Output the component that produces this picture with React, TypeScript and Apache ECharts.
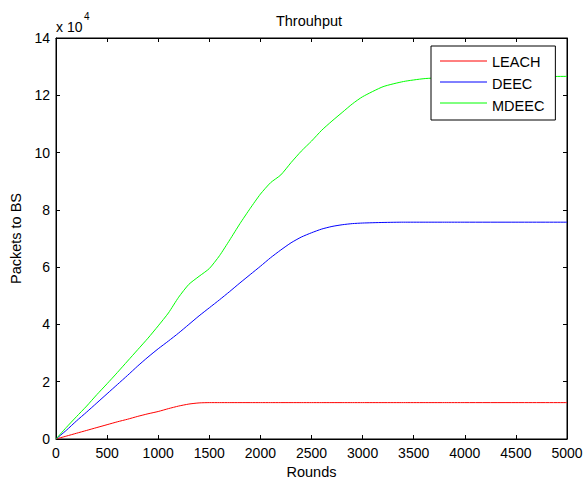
import React, { useEffect, useRef } from "react";
import * as echarts from "echarts";

const rounds = [0, 100, 200, 300, 400, 500, 600, 700, 800, 900, 1000, 1100, 1200, 1300, 1400, 1500, 1600, 1700, 1800, 1900, 2000, 2100, 2200, 2300, 2400, 2500, 2600, 2700, 2800, 2900, 3000, 3200, 3400, 3600, 3800, 4000, 4500, 5000];

const leach = [0, 0.1, 0.2, 0.3, 0.4, 0.5, 0.6, 0.69, 0.79, 0.88, 0.96, 1.06, 1.15, 1.22, 1.26, 1.27, 1.27, 1.27, 1.27, 1.27, 1.27, 1.27, 1.27, 1.27, 1.27, 1.27, 1.27, 1.27, 1.27, 1.27, 1.27, 1.27, 1.27, 1.27, 1.27, 1.27, 1.27, 1.27];

const deec = [0, 0.3, 0.63, 0.94, 1.26, 1.58, 1.9, 2.22, 2.55, 2.86, 3.15, 3.42, 3.7, 4.0, 4.3, 4.58, 4.86, 5.15, 5.45, 5.74, 6.03, 6.33, 6.6, 6.85, 7.05, 7.2, 7.33, 7.42, 7.48, 7.52, 7.54, 7.56, 7.57, 7.57, 7.57, 7.57, 7.57, 7.57];

const mdeec = [0, 0.4, 0.78, 1.15, 1.55, 1.93, 2.32, 2.72, 3.12, 3.52, 3.95, 4.4, 4.95, 5.4, 5.68, 5.95, 6.4, 6.95, 7.52, 8.05, 8.55, 8.95, 9.22, 9.65, 10.05, 10.4, 10.78, 11.1, 11.4, 11.7, 11.95, 12.3, 12.48, 12.58, 12.62, 12.63, 12.65, 12.66];

const seriesNames = ["LEACH", "DEEC", "MDEEC"];
const seriesColors = ["#ff0000", "#0000ff", "#00ff00"];
const seriesValues = [leach, deec, mdeec];

const FONT = "Arial, 'Liberation Sans', Helvetica, sans-serif";

export default function App() {
  const ref = useRef<HTMLDivElement>(null);
  useEffect(() => {
    if (!ref.current) return;
    const chart = echarts.init(ref.current, undefined, { renderer: "svg" });
    const axisCommon = {
      axisLine: { show: true, onZero: false, lineStyle: { color: "#000", width: 1 } },
      axisTick: { show: true, inside: true, length: 4, lineStyle: { color: "#000" } },
      splitLine: { show: false },
    };
    const legendTop = 46;
    const padTop = 8;
    const rowH = 14;
    const gap = 7;
    const legendLines = seriesNames.map((_, i) => ({
      type: "line",
      z: 100,
      silent: true,
      shape: {
        x1: 440, x2: 487,
        y1: legendTop + padTop + rowH / 2 + i * (rowH + gap),
        y2: legendTop + padTop + rowH / 2 + i * (rowH + gap),
      },
      style: { stroke: seriesColors[i], lineWidth: 1 },
    }));
    chart.setOption({
      animation: false,
      backgroundColor: "#fff",
      textStyle: { fontFamily: FONT },
      grid: {
        left: 56, right: 17, top: 38, bottom: 40,
        containLabel: false, outerBoundsMode: "none",
        show: true, borderColor: "#000", borderWidth: 1, backgroundColor: "transparent",
      },
      xAxis: [
        {
          type: "value", min: 0, max: 5000, interval: 500, position: "bottom",
          ...axisCommon,
          axisLabel: { color: "#000", fontSize: 14, fontFamily: FONT, margin: 7, formatter: (v: number) => String(v) },
          name: "Rounds", nameLocation: "middle", nameGap: 25,
          nameTextStyle: { color: "#000", fontSize: 14.5, fontFamily: FONT },
        },
        {
          type: "value", min: 0, max: 5000, interval: 500, position: "top",
          ...axisCommon, axisLabel: { show: false },
        },
      ],
      yAxis: [
        {
          type: "value", min: 0, max: 14, interval: 2, position: "left",
          ...axisCommon,
          axisLabel: { color: "#000", fontSize: 14, fontFamily: FONT, margin: 6 },
          name: "Packets to BS", nameLocation: "middle", nameGap: 32,
          nameTextStyle: { color: "#000", fontSize: 14.5, fontFamily: FONT },
        },
        {
          type: "value", min: 0, max: 14, interval: 2, position: "right",
          ...axisCommon, axisLabel: { show: false },
        },
      ],
      legend: {
        orient: "vertical",
        left: 431, top: legendTop,
        padding: [padTop, 11, 7, 9],
        icon: "rect",
        itemWidth: 47, itemHeight: 1.2, itemGap: gap,
        itemStyle: { opacity: 0 },
        borderColor: "#000", borderWidth: 1, backgroundColor: "#fff",
        textStyle: { color: "#000", fontSize: 14.5, lineHeight: rowH, height: rowH, fontFamily: FONT },
        data: seriesNames,
      },
      graphic: [
        {
          type: "text", x: 56, y: 27,
          style: { text: "x 10", fill: "#000", fontSize: 14, fontFamily: FONT, textVerticalAlign: "middle" },
        },
        {
          type: "text", x: 84, y: 16,
          style: { text: "4", fill: "#000", fontSize: 10, fontFamily: FONT, textVerticalAlign: "middle" },
        },
        {
          type: "text", x: 309, y: 21,
          style: { text: "Throuhput", fill: "#000", fontSize: 14.5, fontFamily: FONT, textAlign: "center", textVerticalAlign: "middle" },
        },
        ...legendLines,
      ],
      series: [
        ...seriesNames.map((name, i) => ({
          name,
          type: "line",
          showSymbol: false,
          symbol: "none",
          smooth: 0.2,
          color: seriesColors[i],
          lineStyle: { color: seriesColors[i], width: 1 },
          itemStyle: { color: seriesColors[i] },
          data: rounds.map((r, k) => [r, seriesValues[i][k]]),
        })),
        {
          name: "_box",
          type: "line",
          xAxisIndex: 1,
          yAxisIndex: 1,
          symbol: "none",
          silent: true,
          lineStyle: { opacity: 0 },
          data: [[0, 0]],
        },
      ],
    });
    return () => chart.dispose();
  }, []);
  return <div ref={ref} style={{ width: 584, height: 479, position: "absolute", left: 0, top: 0 }} />;
}
